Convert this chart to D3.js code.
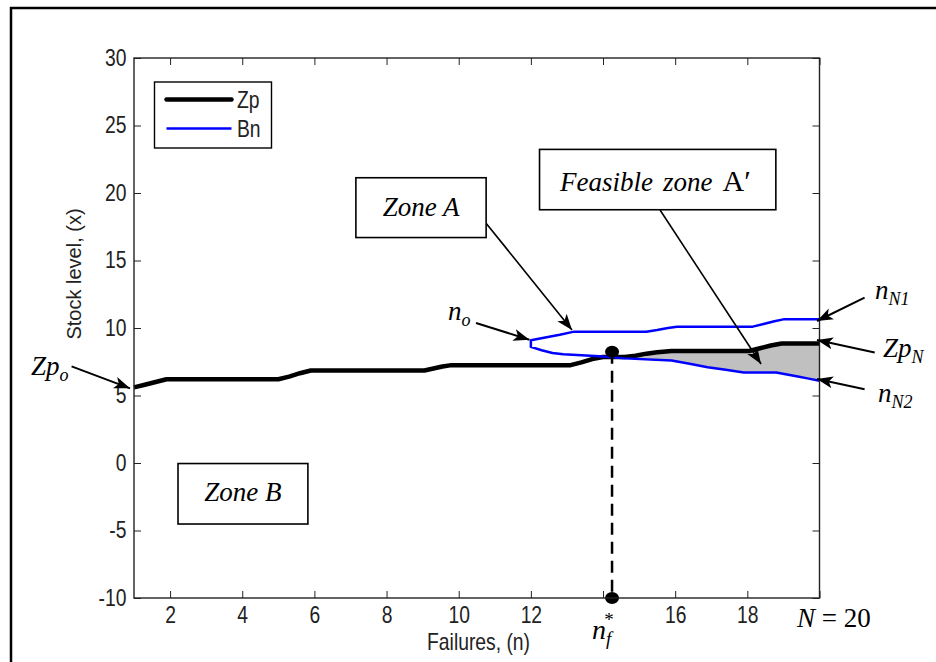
<!DOCTYPE html>
<html><head><meta charset="utf-8">
<script src="https://cdn.jsdelivr.net/npm/d3@7"></script>
<style>
body{margin:0;background:#fff;}
svg{display:block;}
.sans{font-family:"Liberation Sans",Arial,sans-serif;fill:#222;}
.serif{font-family:"Liberation Serif","Times New Roman",serif;fill:#000;}
</style></head><body>
<svg id="chart" width="936" height="662"></svg>
<script>
// ---------- data ----------
const xTicks = [2, 4, 6, 8, 10, 12, 14, 16, 18, 20];
const xTickLabels = ["2", "4", "6", "8", "10", "12", "", "16", "18", ""];
const yTicks = [-10, -5, 0, 5, 10, 15, 20, 25, 30];
const seriesNames = ["Zp", "Bn"];

// Zp curve (failures n, stock level)
const zpN   = [1, 1.3, 1.6, 1.9, 5.0, 5.3, 5.6, 5.9, 9.05, 9.3, 9.55, 9.8, 13.1, 13.4, 13.7, 14.0, 14.6, 14.9, 15.2, 15.5, 15.9, 18.05, 18.35, 18.65, 18.95, 20];
const zpVal = [5.6, 5.8, 6.0, 6.2, 6.2, 6.4, 6.65, 6.85, 6.85, 7.0, 7.15, 7.25, 7.25, 7.45, 7.7, 7.85, 7.85, 7.95, 8.1, 8.2, 8.3, 8.3, 8.5, 8.7, 8.85, 8.85];

// Bn upper branch
const bnUpN   = [12, 12.4, 12.8, 13.2, 15.2, 15.5, 15.8, 16.05, 18.15, 18.45, 18.75, 19.0, 20];
const bnUpVal = [9.1, 9.3, 9.5, 9.73, 9.73, 9.85, 10.0, 10.1, 10.1, 10.3, 10.5, 10.64, 10.64];
// Bn lower branch
const bnLoN   = [12, 12.3, 12.6, 12.9, 13.9, 14.6, 15.9, 16.4, 16.9, 17.4, 17.9, 18.8, 19.1, 19.4, 19.7, 20];
const bnLoVal = [8.6, 8.35, 8.15, 8.05, 7.9, 7.75, 7.6, 7.35, 7.1, 6.9, 6.7, 6.7, 6.55, 6.4, 6.25, 6.1];

const nfStar = 14.25;   // optimal failure number
const nfTop = 8.25;     // dot on the Zp curve
const bigN = 20;

// ---------- chart ----------
const svg = d3.select("#chart");
const x = d3.scaleLinear().domain([1, 20]).range([134, 819.5]);
const y = d3.scaleLinear().domain([-10, 30]).range([598, 58]);

function interp(ns, vs, n) {
  if (n <= ns[0]) return vs[0];
  for (let i = 0; i < ns.length - 1; i++) {
    if (n >= ns[i] && n <= ns[i + 1]) {
      const t = (n - ns[i]) / (ns[i + 1] - ns[i]);
      return vs[i] + t * (vs[i + 1] - vs[i]);
    }
  }
  return vs[vs.length - 1];
}

// outer frame (top + left)
svg.append("path").attr("d", "M11,662 L11,8 L936,8")
  .attr("fill", "none").attr("stroke", "#000").attr("stroke-width", 2.5);

// feasible zone fill
const fillPts = d3.range(14.6, 20.0001, 0.05).map(n => {
  const lo = interp(bnLoN, bnLoVal, n), zp = interp(zpN, zpVal, n);
  return { n, lo, hi: Math.max(lo, zp) };
});
svg.append("path").datum(fillPts)
  .attr("d", d3.area().x(d => x(d.n)).y0(d => y(d.lo)).y1(d => y(d.hi)))
  .attr("fill", "#c0c0c0");

// Zp line
const zpData = zpN.map((n, i) => [n, zpVal[i]]);
const line = d3.line().x(d => x(d[0])).y(d => y(d[1]));
svg.append("path").datum(zpData).attr("d", line)
  .attr("fill", "none").attr("stroke", "#000").attr("stroke-width", 4.5)
  .attr("stroke-linejoin", "round");

// Bn outline
const bnData = bnUpN.map((n, i) => [n, bnUpVal[i]]).reverse()
  .concat(bnLoN.map((n, i) => [n, bnLoVal[i]]));
svg.append("path").datum(bnData).attr("d", line)
  .attr("fill", "none").attr("stroke", "#0000ff").attr("stroke-width", 2.5)
  .attr("stroke-linejoin", "round");

// dashed vertical at n_f*
svg.append("line")
  .attr("x1", x(nfStar)).attr("x2", x(nfStar))
  .attr("y1", y(nfTop)).attr("y2", y(-10))
  .attr("stroke", "#000").attr("stroke-width", 2.5).attr("stroke-dasharray", "12,7");
[nfTop, -10].forEach(v => {
  svg.append("ellipse").attr("cx", x(nfStar)).attr("cy", y(v))
    .attr("rx", 7).attr("ry", 6).attr("fill", "#000");
});

// axes
function styleAxis(g) {
  g.select(".domain").remove();
  g.selectAll(".tick line").attr("stroke", "#222").attr("stroke-width", 1);
  g.selectAll(".tick text").attr("class", "sans").style("font-size", "23px")
    .attr("transform", "scale(0.84,1)").attr("fill", "#222");
}
svg.append("g").attr("transform", `translate(0,${y(-10)})`)
  .call(d3.axisBottom(x).tickValues(xTicks).tickFormat((d, i) => xTickLabels[i])
    .tickSizeInner(-7).tickSizeOuter(0).tickPadding(9))
  .call(styleAxis);
svg.append("g").attr("transform", `translate(0,${y(30)})`)
  .call(d3.axisTop(x).tickValues(xTicks).tickFormat("").tickSizeInner(-7).tickSizeOuter(0))
  .call(styleAxis);
svg.append("g").attr("transform", `translate(${x(1)},0)`)
  .call(d3.axisLeft(y).tickValues(yTicks).tickFormat(d => String(d))
    .tickSizeInner(-7).tickSizeOuter(0).tickPadding(9))
  .call(styleAxis);
svg.append("g").attr("transform", `translate(${x(20)},0)`)
  .call(d3.axisRight(y).tickValues(yTicks).tickFormat("").tickSizeInner(-7).tickSizeOuter(0))
  .call(styleAxis);
svg.append("rect").attr("x", x(1)).attr("y", y(30))
  .attr("width", x(20) - x(1)).attr("height", y(-10) - y(30))
  .attr("fill", "none").attr("stroke", "#222").attr("stroke-width", 1.4);

// axis labels
svg.append("text").attr("class", "sans").style("font-size", "23px")
  .attr("text-anchor", "middle")
  .attr("transform", `translate(${x(10.55)},650) scale(0.84,1)`)
  .text("Failures, (n)");
svg.append("text").attr("class", "sans").style("font-size", "20px")
  .attr("text-anchor", "middle")
  .attr("transform", `translate(81,${y(14)}) rotate(-90)`)
  .text("Stock level, (x)");

// legend
const leg = svg.append("g");
leg.append("rect").attr("x", 154.5).attr("y", 82).attr("width", 117).attr("height", 66)
  .attr("fill", "#fff").attr("stroke", "#000").attr("stroke-width", 1.4);
const legStyles = [{ c: "#000", w: 4.5 }, { c: "#0000ff", w: 2.5 }];
seriesNames.forEach((name, i) => {
  const ly = 99.5 + i * 29;
  leg.append("line").attr("x1", 166.5).attr("x2", 231.5).attr("y1", ly).attr("y2", ly)
    .attr("stroke", legStyles[i].c).attr("stroke-width", legStyles[i].w)
    .attr("stroke-linecap", i === 0 ? "round" : "butt");
  leg.append("text").attr("class", "sans").style("font-size", "23px")
    .attr("transform", `translate(237,${ly + 8}) scale(0.84,1)`).text(name);
});

// arrow marker
svg.append("defs").append("marker").attr("id", "arr")
  .attr("markerUnits", "userSpaceOnUse").attr("markerWidth", 18).attr("markerHeight", 14)
  .attr("refX", 16).attr("refY", 6).attr("orient", "auto")
  .append("path").attr("d", "M0,0 L16,6 L0,12 L4,6 Z").attr("fill", "#000");

function arrow(n0, v0, n1, v1, w) {
  svg.append("line").attr("x1", x(n0)).attr("y1", y(v0)).attr("x2", x(n1)).attr("y2", y(v1))
    .attr("stroke", "#000").attr("stroke-width", w).attr("marker-end", "url(#arr)");
}
// annotation boxes
function box(n0, n1, v0, v1) {
  svg.append("rect").attr("x", x(n0)).attr("y", y(v0))
    .attr("width", x(n1) - x(n0)).attr("height", y(v1) - y(v0))
    .attr("fill", "#fff").attr("stroke", "#000").attr("stroke-width", 1.6);
}
box(7.15, 10.76, 21.13, 16.7);   // Zone A
box(12.24, 18.79, 23.23, 18.76); // Feasible zone A'
box(2.22, 5.82, -0.04, -4.52);   // Zone B

arrow(10.77, 17.73, 13.14, 9.85, 1.6);
arrow(15.58, 18.74, 18.38, 7.33, 1.6);
arrow(10.48, 10.37, 11.96, 9.13, 2);
arrow(21.25, 12.25, 19.93, 10.52, 2);
arrow(21.53, 8.19, 19.93, 9.11, 2);
arrow(21.25, 5.47, 19.93, 6.22, 2);
arrow(-0.73, 7.16, 0.89, 5.53, 2);

// box texts
svg.append("text").attr("class", "serif").style("font-size", "27px").style("font-style", "italic")
  .attr("text-anchor", "middle").attr("x", (x(7.15) + x(10.76)) / 2).attr("y", 216).text("Zone A");
svg.append("text").attr("class", "serif").style("font-size", "27px").style("font-style", "italic")
  .attr("text-anchor", "middle").attr("x", (x(2.22) + x(5.82)) / 2).attr("y", 501).text("Zone B");
const fz = svg.append("text").attr("class", "serif").style("font-size", "27px")
  .attr("x", 560).attr("y", 191);
fz.append("tspan").style("font-style", "italic").text("Feasible");
fz.append("tspan").style("font-style", "italic").attr("dx", 10).text("zone");
fz.append("tspan").attr("dx", 10).style("font-size", "30px").text("A\u2032");

// math labels
function mathLabel(px, py, main, sub, size) {
  const t = svg.append("text").attr("class", "serif").style("font-size", size + "px")
    .style("font-style", "italic").attr("x", px).attr("y", py);
  t.append("tspan").text(main);
  if (sub) t.append("tspan").attr("dy", 6).style("font-size", Math.round(size * 0.68) + "px").text(sub);
  return t;
}
mathLabel(31, 375, "Zp", "o", 27);
mathLabel(448, 320, "n", "o", 27);
mathLabel(875, 299, "n", "N1", 27);
mathLabel(883, 357, "Zp", "N", 27);
mathLabel(878, 402, "n", "N2", 27);
const nf = mathLabel(x(nfStar) - 20, 639, "n", "f", 28);
nf.append("tspan").attr("dx", -7).attr("dy", -19).style("font-style", "normal")
  .style("font-size", "19px").text("*");
const nt = svg.append("text").attr("class", "serif").style("font-size", "27px")
  .attr("x", 797).attr("y", 627);
nt.append("tspan").style("font-style", "italic").text("N");
nt.append("tspan").text(" = " + bigN);
</script>
</body></html>
